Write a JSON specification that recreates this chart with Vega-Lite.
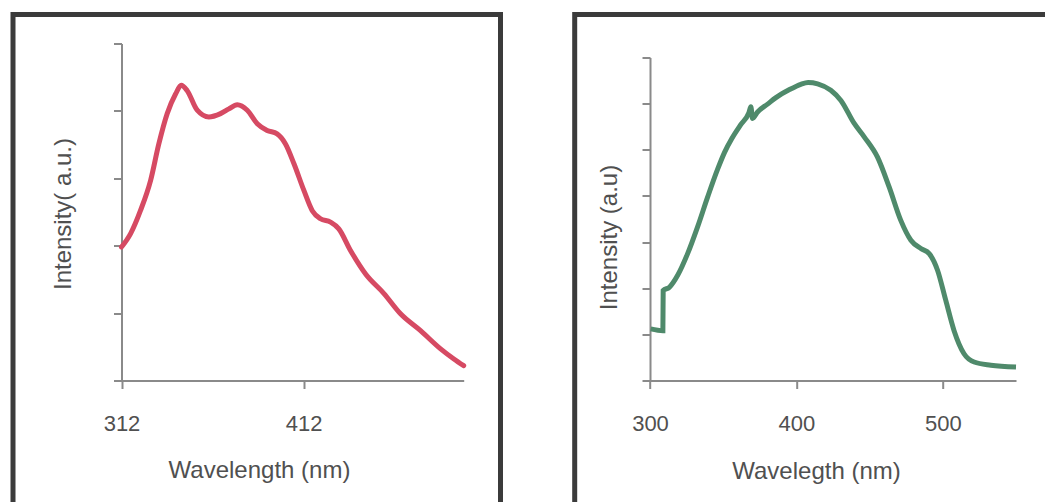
{
  "$schema": "https://vega.github.io/schema/vega-lite/v6.json",
  "background": "white",
  "padding": {"left": 10, "top": 11.5, "right": 0, "bottom": 0},
  "spacing": 73.7,
  "bounds": "flush",
  "config": {
    "view": {"stroke": "#3b3b3b", "strokeWidth": 5},
    "axis": {
      "grid": false,
      "domainColor": "#8a8a8a",
      "domainWidth": 2,
      "tickColor": "#8a8a8a",
      "tickWidth": 2,
      "tickSize": 8,
      "labelFont": "Liberation Sans",
      "labelFontSize": 22,
      "labelColor": "#505050",
      "labelPadding": 25,
      "labelFlush": false,
      "titleFont": "Liberation Sans",
      "titleFontSize": 24,
      "titleFontWeight": "normal",
      "titleColor": "#505050"
    }
  },
  "datasets": {
    "red": [
      {"wl": 312, "i": 1.98}, {"wl": 317, "i": 2.18}, {"wl": 322.4, "i": 2.52}, {"wl": 328, "i": 2.97},
      {"wl": 332.5, "i": 3.51}, {"wl": 337.1, "i": 3.96}, {"wl": 341.7, "i": 4.25}, {"wl": 344.8, "i": 4.38},
      {"wl": 348.1, "i": 4.3}, {"wl": 353.6, "i": 4.01}, {"wl": 360, "i": 3.91}, {"wl": 366.4, "i": 3.96},
      {"wl": 371, "i": 4.03}, {"wl": 375.6, "i": 4.09}, {"wl": 381.1, "i": 4.01}, {"wl": 386.6, "i": 3.81},
      {"wl": 392, "i": 3.71}, {"wl": 397.5, "i": 3.66}, {"wl": 402.1, "i": 3.51}, {"wl": 406.7, "i": 3.22},
      {"wl": 412.2, "i": 2.82}, {"wl": 416.8, "i": 2.52}, {"wl": 421.3, "i": 2.4}, {"wl": 426.8, "i": 2.35},
      {"wl": 431.4, "i": 2.25}, {"wl": 437.8, "i": 1.93}, {"wl": 446.1, "i": 1.58}, {"wl": 456.2, "i": 1.29},
      {"wl": 465.3, "i": 0.99}, {"wl": 476.3, "i": 0.74}, {"wl": 487.3, "i": 0.47}, {"wl": 494.6, "i": 0.32},
      {"wl": 500, "i": 0.22}
    ],
    "green": [
      {"wl": 300.5, "i": 1.12}, {"wl": 308.8, "i": 1.08}, {"wl": 309.0, "i": 1.95}, {"wl": 313.2, "i": 2.02},
      {"wl": 318.9, "i": 2.28}, {"wl": 325.7, "i": 2.75}, {"wl": 332.5, "i": 3.33}, {"wl": 339.4, "i": 3.98},
      {"wl": 346.2, "i": 4.58}, {"wl": 351, "i": 4.95}, {"wl": 356, "i": 5.25}, {"wl": 362.1, "i": 5.55},
      {"wl": 367.5, "i": 5.8},
      {"wl": 368.9, "i": 5.93}, {"wl": 370.0, "i": 5.68}, {"wl": 373.5, "i": 5.82}, {"wl": 380.3, "i": 5.99},
      {"wl": 386, "i": 6.13}, {"wl": 395, "i": 6.3}, {"wl": 403, "i": 6.42}, {"wl": 408, "i": 6.46},
      {"wl": 414.5, "i": 6.43}, {"wl": 423.5, "i": 6.29}, {"wl": 430.4, "i": 6.07}, {"wl": 439.5, "i": 5.57},
      {"wl": 446.3, "i": 5.28}, {"wl": 455.4, "i": 4.84}, {"wl": 463.4, "i": 4.19}, {"wl": 471.3, "i": 3.47},
      {"wl": 478.2, "i": 3.04}, {"wl": 485, "i": 2.86}, {"wl": 490.7, "i": 2.75}, {"wl": 496.4, "i": 2.39},
      {"wl": 502, "i": 1.74}, {"wl": 507.7, "i": 1.08}, {"wl": 514.5, "i": 0.58}, {"wl": 521.4, "i": 0.4},
      {"wl": 532.8, "i": 0.33}, {"wl": 550, "i": 0.29}
    ]
  },
  "hconcat": [
    {
      "width": 487.5,
      "height": 500,
      "data": {"name": "red"},
      "mark": {"type": "line", "color": "#d64a63", "strokeWidth": 5, "interpolate": "monotone", "strokeCap": "round"},
      "encoding": {
        "x": {
          "field": "wl", "type": "quantitative",
          "scale": {"domain": [312, 500], "range": [108.5, 450.7], "nice": false, "zero": false},
          "axis": {"values": [312, 412], "offset": -134, "title": "Wavelength (nm)",
                   "titleX": 246, "titleY": 96.5, "titleBaseline": "alphabetic", "titleAlign": "center"}
        },
        "y": {
          "field": "i", "type": "quantitative",
          "scale": {"domain": [0, 5], "range": [366, 29], "nice": false, "zero": false},
          "axis": {"values": [0, 1, 2, 3, 4, 5], "labels": false, "offset": -108.5, "title": "Intensity( a.u.)",
                   "titleX": -51, "titleY": 199, "titleAngle": 270, "titleBaseline": "alphabetic", "titleAlign": "center"}
        }
      }
    },
    {
      "width": 480,
      "height": 500,
      "data": {"name": "green"},
      "mark": {"type": "line", "color": "#4f8a6b", "strokeWidth": 5, "interpolate": "monotone", "strokeCap": "butt"},
      "encoding": {
        "x": {
          "field": "wl", "type": "quantitative",
          "scale": {"domain": [300, 550], "range": [75.3, 441.3], "nice": false, "zero": false},
          "axis": {"values": [300, 400, 500], "offset": -134, "title": "Wavelegth (nm)",
                   "titleX": 241.3, "titleY": 98, "titleBaseline": "alphabetic", "titleAlign": "center"}
        },
        "y": {
          "field": "i", "type": "quantitative",
          "scale": {"domain": [0, 7], "range": [366, 43], "nice": false, "zero": false},
          "axis": {"values": [0, 1, 2, 3, 4, 5, 6, 7], "labels": false, "offset": -75.3, "title": "Intensity (a.u)",
                   "titleX": -34, "titleY": 222.5, "titleAngle": 270, "titleBaseline": "alphabetic", "titleAlign": "center"}
        }
      }
    }
  ]
}
